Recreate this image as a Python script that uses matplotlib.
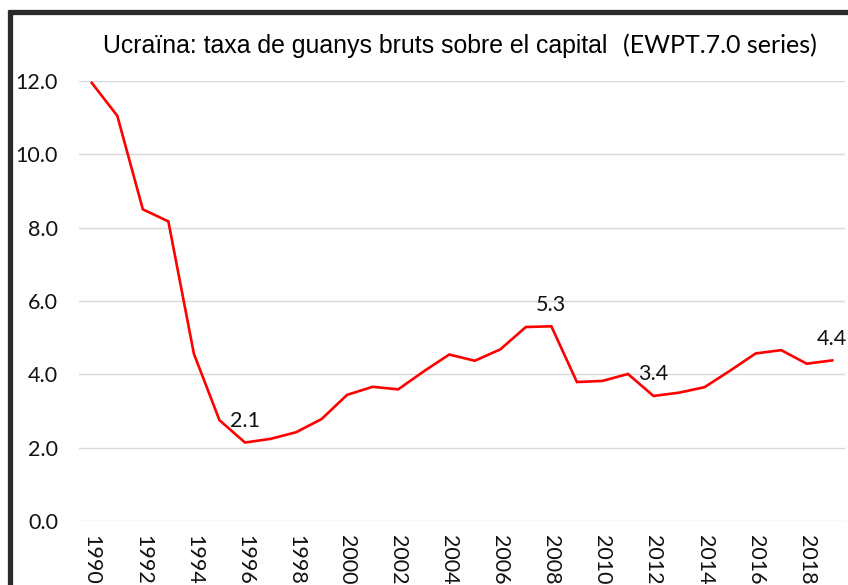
import matplotlib
matplotlib.use("Agg")
import matplotlib.pyplot as plt
from matplotlib.lines import Line2D

# Ucraïna: taxa de guanys bruts sobre el capital (EWPT.7.0)
anys = list(range(1990, 2020))
taxa = [11.95, 11.05, 8.50, 8.17, 4.56, 2.75, 2.14, 2.24, 2.42, 2.78,
        3.44, 3.66, 3.59, 4.08, 4.54, 4.37, 4.68, 5.29, 5.31, 3.79,
        3.82, 4.01, 3.41, 3.50, 3.65, 4.10, 4.57, 4.66, 4.29, 4.38]
anys_etiqueta = [1996, 2008, 2012, 2019]
yticks = [0.0, 2.0, 4.0, 6.0, 8.0, 10.0, 12.0]

W, H = 848, 585
fig = plt.figure(figsize=(W / 100, H / 100), dpi=100)
ax = fig.add_axes([79 / W, 1 - 521 / H, (845 - 79) / W, (521 - 81) / H])

x = list(range(len(anys)))
ax.plot(x, taxa, color="#ff0000", lw=1.9, solid_joinstyle="miter")

for a in anys_etiqueta:
    i = anys.index(a)
    ax.annotate("%.1f" % taxa[i], (i, taxa[i]), xytext=(0, 15.5), textcoords="offset points",
                ha="center", va="center", fontsize=15.5, family="Lato", color="#111111")

ax.set_xlim(-0.5, len(anys) - 0.5)
ax.set_ylim(0, 12)
ax.set_yticks(yticks)
ax.set_yticklabels(["%.1f" % v for v in yticks], family="Lato", fontsize=15.5)
ax.set_xticks([i for i, a in enumerate(anys) if a % 2 == 0])
ax.set_xticklabels([str(a) for a in anys if a % 2 == 0], rotation=270,
                   family="Lato", fontsize=15.5, va="top", ha="center")
ax.tick_params(axis="both", length=0, colors="#111111")
ax.tick_params(axis="y", pad=15)
ax.tick_params(axis="x", pad=10)
ax.grid(axis="y", color="#d9d9d9", lw=1.0)
ax.set_axisbelow(True)
for s in ax.spines.values():
    s.set_visible(False)

# titol en dues parts, com a l'original
fig.text(103 / W, 1 - 53 / H, "Ucraïna: taxa de guanys bruts sobre el capital",
         family="Liberation Sans", fontsize=17.9, va="baseline", ha="left")
fig.text(623 / W, 1 - 53 / H, "(EWPT.7.0 series)",
         family="Lato", fontsize=18, va="baseline", ha="left")

# marc negre (dalt i esquerra)
fig.add_artist(Line2D([8 / W, 1], [1 - 12 / H, 1 - 12 / H], color="#2a2a2a", lw=3.8,
                      transform=fig.transFigure, solid_capstyle="butt"))
fig.add_artist(Line2D([10 / W, 10 / W], [0, 1 - 10 / H], color="#2a2a2a", lw=3.8,
                      transform=fig.transFigure, solid_capstyle="butt"))

fig.savefig("out.png", dpi=100)
